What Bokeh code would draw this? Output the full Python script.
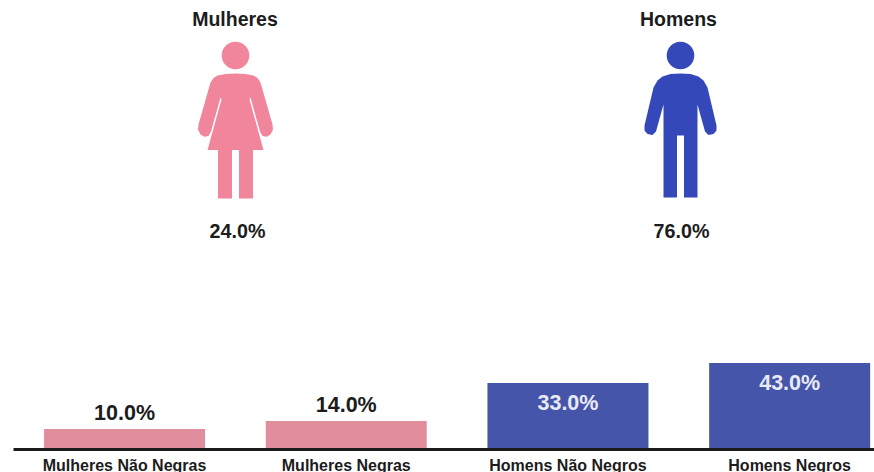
from bokeh.plotting import figure
from bokeh.layouts import column
from bokeh.models import Range1d, FixedTicker, ColumnDataSource
from bokeh.core.properties import value
from bokeh.embed import file_html
from bokeh.resources import INLINE

FONT = "Liberation Sans"

# ---- data
group_names = ["Mulheres", "Homens"]
group_shares = [24.0, 76.0]
group_colors = ["#F0859B", "#3448BA"]

categories = ["Mulheres Não Negras", "Mulheres Negras", "Homens Não Negros", "Homens Negros"]
shares = [10.0, 14.0, 33.0, 43.0]
bar_colors = ["#E08E9E", "#E08E9E", "#4555A9", "#4555A9"]
label_colors = ["#1c1c1c", "#1c1c1c", "#E8EAF6", "#E8EAF6"]

# pictogram outlines (right half, mirrored below): offset from the axis, depth from the head
woman_half = [(0, 73), (10, 73.5), (18, 75), (22, 77.5), (25, 82), (37, 124), (37.5, 129), (35, 134), (31, 136.3),
              (27, 135.5), (24.5, 131), (15, 97), (14, 99), (28, 149.5), (17.5, 149.5), (17.5, 198),
              (3.5, 198), (3.5, 149.5), (0, 149.5)]
man_half = [(0, 73), (10, 73.5), (18, 76), (23, 80), (27, 87), (36, 125), (36, 130), (33, 133.5), (28, 134.5), (24.5, 131),
            (17, 104), (17, 197), (3.5, 197), (3.5, 135), (0, 135)]
icon_outlines = [woman_half, man_half]
icon_centers = [235, 680]
title_centers = [234.5, 678]
share_centers = [237, 681]


def mirrored(half, cx):
    xs = [cx + a for a, _ in half] + [cx - a for a, _ in reversed(half)]
    ys = [b for _, b in half] + [b for _, b in reversed(half)]
    return xs, ys


# ---- pictograms (scale equals one page pixel per unit)
top = figure(width=874, height=340, output_backend="svg", toolbar_location=None,
             x_range=Range1d(0, 874), y_range=Range1d(340, 0),
             x_axis_location=None, y_axis_location=None,
             min_border=0, outline_line_color=None, background_fill_color="white")
top.grid.visible = False

for i, name in enumerate(group_names):
    cx = icon_centers[i]
    xs, ys = mirrored(icon_outlines[i], cx)
    top.patch(xs, ys, fill_color=group_colors[i], line_color=None)
    top.circle([cx], [55], radius=13.8, fill_color=group_colors[i], line_color=None)

top.text(title_centers, [18.5, 18.5], text=group_names, text_font=value(FONT), text_font_style="bold",
         text_font_size="19.5px", text_color="#1c1c1c", text_align="center", text_baseline="middle")
top.text(share_centers, [230.5, 230.5], text=[f"{v:.1f}%" for v in group_shares], text_font=value(FONT),
         text_font_style="bold", text_font_size="19.7px", text_color="#1c1c1c",
         text_align="center", text_baseline="middle")

# ---- bars
positions = list(range(len(categories)))
src = ColumnDataSource(dict(
    x=positions, top=shares, color=bar_colors, label_color=label_colors,
    label=[f"{v:.1f}%" for v in shares],
    dy=[-16 if v < 20 else 20 for v in shares],
))

unit = 221.7  # pixels between neighbouring bars
px_per_share = 2.0
x_start = -0.5 - 13.2 / unit
bottom = figure(width=874, height=132, output_backend="svg", toolbar_location=None,
                x_range=Range1d(x_start, x_start + 874 / unit),
                y_range=Range1d(-23.5 / px_per_share, 108.5 / px_per_share),
                y_axis_location=None, min_border=0,
                outline_line_color=None, background_fill_color="white")
bottom.grid.visible = False
bottom.vbar(x="x", top="top", bottom=0, width=161 / unit, fill_color="color", line_color=None, source=src)
bottom.text(x="x", y="top", text="label", text_color="label_color", y_offset="dy", source=src,
            text_font=value(FONT), text_font_style="bold", text_font_size="21.5px",
            text_align="center", text_baseline="middle")

ax = bottom.xaxis[0]
ax.fixed_location = 0
ax.bounds = (-0.5, x_start + 874 / unit)
ax.ticker = FixedTicker(ticks=positions)
ax.major_label_overrides = {i: c for i, c in enumerate(categories)}
ax.major_tick_line_color = None
ax.minor_tick_line_color = None
ax.axis_line_color = "#1c1c1c"
ax.axis_line_width = 3
ax.major_label_standoff = 2
ax.major_label_text_font = FONT
ax.major_label_text_font_style = "bold"
ax.major_label_text_font_size = "16px"
ax.major_label_text_color = "#1c1c1c"

layout = column(top, bottom, spacing=0)
open("out.html", "w").write(file_html(layout, INLINE))
